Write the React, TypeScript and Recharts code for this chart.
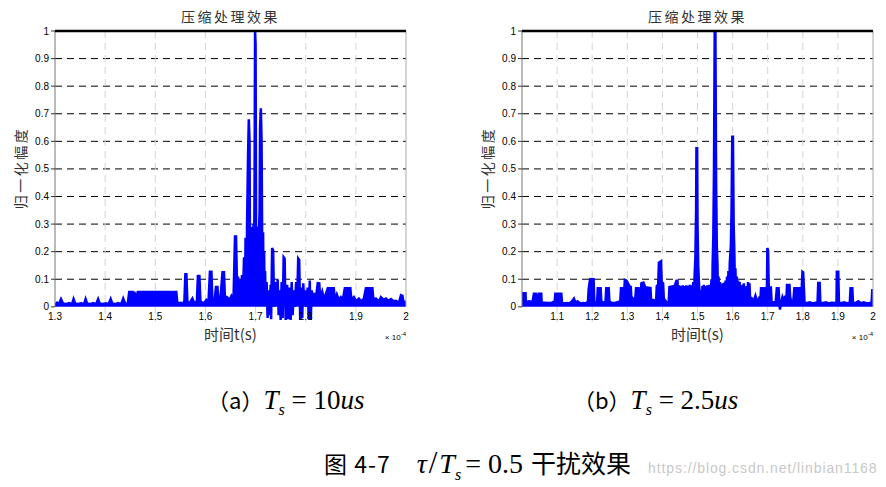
import React from 'react';
import { ComposedChart, Area, XAxis, YAxis, ReferenceLine, CartesianGrid } from 'recharts';

// amplitude samples, time in units of 1e-4 s
const pulseA: [number, number][] = [
  [1.300, 0.008], [1.304, 0.015], [1.308, 0.010], [1.312, 0.028], [1.316, 0.012], [1.322, 0.010],
  [1.328, 0.014], [1.334, 0.010], [1.337, 0.028], [1.340, 0.012], [1.346, 0.010], [1.352, 0.013],
  [1.358, 0.010], [1.361, 0.028], [1.364, 0.012], [1.370, 0.010], [1.376, 0.014], [1.382, 0.010],
  [1.386, 0.028], [1.389, 0.012], [1.396, 0.010], [1.402, 0.013], [1.407, 0.010], [1.411, 0.028],
  [1.414, 0.012], [1.420, 0.010], [1.426, 0.014], [1.432, 0.010], [1.436, 0.030], [1.440, 0.012],
  [1.445, 0.010], [1.448, 0.054], [1.455, 0.054], [1.456, 0.015], [1.458, 0.054], [1.462, 0.030],
  [1.465, 0.054], [1.470, 0.054], [1.471, 0.012], [1.474, 0.054], [1.483, 0.054], [1.484, 0.015],
  [1.487, 0.054], [1.494, 0.054], [1.495, 0.012], [1.498, 0.054], [1.506, 0.054], [1.507, 0.015],
  [1.510, 0.054], [1.514, 0.054], [1.515, 0.020], [1.518, 0.054], [1.524, 0.054], [1.525, 0.012],
  [1.528, 0.054], [1.532, 0.054], [1.534, 0.015], [1.537, 0.054], [1.542, 0.054], [1.544, 0.012],
  [1.550, 0.015], [1.555, 0.012], [1.558, 0.020], [1.560, 0.118], [1.562, 0.118], [1.564, 0.020],
  [1.568, 0.012], [1.574, 0.030], [1.578, 0.012], [1.583, 0.020], [1.585, 0.112], [1.588, 0.112],
  [1.590, 0.020], [1.596, 0.012], [1.602, 0.025], [1.606, 0.015], [1.609, 0.127], [1.612, 0.127],
  [1.614, 0.020], [1.618, 0.015], [1.621, 0.072], [1.624, 0.072], [1.626, 0.020], [1.630, 0.030],
  [1.634, 0.125], [1.637, 0.125], [1.639, 0.025], [1.643, 0.035], [1.648, 0.025], [1.652, 0.040],
  [1.656, 0.030], [1.659, 0.255], [1.661, 0.255], [1.663, 0.080], [1.665, 0.110], [1.667, 0.040],
  [1.669, 0.100], [1.671, 0.050], [1.673, 0.115], [1.675, 0.060], [1.677, 0.180], [1.679, 0.050],
  [1.680, 0.250], [1.682, 0.080], [1.683, 0.300], [1.685, 0.550], [1.6865, 0.680], [1.688, 0.600],
  [1.689, 0.120], [1.690, 0.290], [1.691, 0.050], [1.692, 0.280], [1.693, 0.070], [1.694, 0.290],
  [1.695, 0.090], [1.696, 0.300], [1.697, 0.150], [1.698, 0.450], [1.699, 1.000], [1.700, 0.950],
  [1.701, 0.300], [1.702, 0.080], [1.703, 0.280], [1.704, 0.060], [1.705, 0.290], [1.706, 0.080],
  [1.707, 0.280], [1.708, 0.350], [1.709, 0.650], [1.7105, 0.720], [1.712, 0.600], [1.713, 0.280],
  [1.714, 0.060], [1.715, 0.270], [1.716, 0.050], [1.717, 0.200], [1.718, 0.030], [1.719, 0.130],
  [1.720, 0.020], [1.722, 0.090], [1.724, -0.040], [1.726, 0.060], [1.728, -0.030], [1.730, 0.080],
  [1.731, -0.045], [1.733, 0.213], [1.735, 0.205], [1.737, 0.000], [1.739, 0.090], [1.741, 0.010],
  [1.744, 0.100], [1.746, -0.030], [1.748, 0.060], [1.750, -0.048], [1.752, 0.090], [1.754, -0.040],
  [1.756, 0.180], [1.758, 0.175], [1.760, -0.048], [1.763, 0.080], [1.765, -0.045], [1.768, 0.070],
  [1.770, -0.048], [1.772, 0.090], [1.774, -0.030], [1.776, 0.060], [1.778, 0.000], [1.781, 0.090],
  [1.783, 0.020], [1.785, 0.175], [1.787, 0.170], [1.789, -0.048], [1.791, 0.070], [1.793, -0.040],
  [1.795, 0.085], [1.797, 0.020], [1.799, 0.060], [1.801, 0.000], [1.804, 0.070], [1.806, -0.045],
  [1.808, 0.095], [1.810, -0.048], [1.812, 0.060], [1.814, 0.020], [1.817, 0.050], [1.820, 0.025],
  [1.824, 0.086], [1.827, 0.085], [1.829, 0.030], [1.833, 0.055], [1.837, 0.025], [1.840, 0.045],
  [1.844, 0.067], [1.856, 0.067], [1.858, 0.025], [1.862, 0.045], [1.866, 0.025], [1.870, 0.035],
  [1.874, 0.025], [1.878, 0.067], [1.889, 0.067], [1.891, 0.025], [1.896, 0.035], [1.901, 0.020],
  [1.906, 0.030], [1.911, 0.020], [1.916, 0.030], [1.920, 0.067], [1.933, 0.067], [1.935, 0.025],
  [1.940, 0.030], [1.946, 0.020], [1.950, 0.035], [1.955, 0.025], [1.960, 0.030], [1.965, 0.022],
  [1.970, 0.028], [1.975, 0.020], [1.980, 0.022], [1.986, 0.015], [1.990, 0.042], [1.993, 0.040],
  [1.995, 0.015], [2.000, 0.020],
];

const pulseB: [number, number][] = [
  [1.000, 0.018], [1.001, 0.049], [1.010, 0.049], [1.011, 0.018], [1.020, 0.020], [1.030, 0.018],
  [1.034, 0.047], [1.040, 0.047], [1.041, 0.018], [1.048, 0.047], [1.055, 0.047], [1.056, 0.015],
  [1.065, 0.015], [1.075, 0.014], [1.085, 0.015], [1.093, 0.020], [1.095, 0.047], [1.112, 0.047],
  [1.114, 0.015], [1.120, 0.012], [1.128, 0.014], [1.135, 0.012], [1.142, 0.020], [1.148, 0.030],
  [1.152, 0.015], [1.158, 0.020], [1.163, 0.015], [1.168, 0.012], [1.175, 0.014], [1.182, 0.012],
  [1.188, 0.020], [1.190, 0.065], [1.194, 0.100], [1.204, 0.100], [1.206, 0.020], [1.210, 0.012],
  [1.214, 0.020], [1.216, 0.067], [1.224, 0.067], [1.226, 0.020], [1.232, 0.014], [1.238, 0.020],
  [1.240, 0.067], [1.247, 0.067], [1.249, 0.020], [1.256, 0.014], [1.265, 0.014], [1.274, 0.018],
  [1.280, 0.020], [1.282, 0.067], [1.288, 0.067], [1.290, 0.030], [1.293, 0.098], [1.298, 0.095],
  [1.302, 0.085], [1.306, 0.075], [1.310, 0.072], [1.312, 0.020], [1.316, 0.030], [1.322, 0.020],
  [1.325, 0.067], [1.332, 0.067], [1.334, 0.020], [1.338, 0.020], [1.340, 0.085], [1.346, 0.088],
  [1.350, 0.075], [1.352, 0.020], [1.355, 0.070], [1.366, 0.068], [1.368, 0.020], [1.374, 0.025],
  [1.382, 0.020], [1.384, 0.075], [1.388, 0.080], [1.390, 0.160], [1.396, 0.165], [1.398, 0.090],
  [1.402, 0.085], [1.404, 0.030], [1.410, 0.020], [1.414, 0.010], [1.418, 0.020], [1.420, 0.072],
  [1.432, 0.075], [1.434, 0.015], [1.436, 0.080], [1.440, 0.095], [1.443, 0.095], [1.446, 0.010],
  [1.448, 0.078], [1.451, 0.020], [1.453, 0.075], [1.456, 0.010], [1.458, 0.078], [1.461, 0.030],
  [1.463, 0.075], [1.466, 0.015], [1.468, 0.078], [1.471, 0.025], [1.473, 0.076], [1.476, 0.010],
  [1.478, 0.080], [1.481, 0.030], [1.483, 0.078], [1.486, 0.040], [1.488, 0.090], [1.490, 0.020],
  [1.492, 0.120], [1.494, 0.180], [1.496, 0.350], [1.497, 0.575], [1.499, 0.575], [1.500, 0.300],
  [1.502, 0.150], [1.504, 0.090], [1.506, 0.050], [1.508, 0.020], [1.510, 0.060], [1.512, 0.010],
  [1.514, 0.075], [1.516, 0.020], [1.518, 0.080], [1.520, 0.010], [1.522, 0.075], [1.525, 0.030],
  [1.528, 0.078], [1.531, 0.020], [1.534, 0.080], [1.537, 0.040], [1.540, 0.100], [1.542, 0.020],
  [1.543, 0.150], [1.545, 0.250], [1.547, 0.500], [1.549, 1.000], [1.551, 1.000], [1.553, 0.450],
  [1.555, 0.220], [1.557, 0.150], [1.558, 0.010], [1.560, 0.110], [1.562, 0.010], [1.564, 0.090],
  [1.566, 0.020], [1.568, 0.080], [1.570, 0.010], [1.572, 0.085], [1.574, 0.020], [1.576, 0.088],
  [1.578, 0.010], [1.580, 0.095], [1.582, 0.020], [1.584, 0.110], [1.586, 0.010], [1.588, 0.130],
  [1.590, 0.020], [1.592, 0.160], [1.595, 0.220], [1.597, 0.350], [1.599, 0.617], [1.601, 0.617],
  [1.603, 0.300], [1.605, 0.200], [1.607, 0.020], [1.608, 0.140], [1.610, 0.010], [1.612, 0.110],
  [1.614, 0.020], [1.616, 0.095], [1.618, 0.010], [1.620, 0.090], [1.622, 0.020], [1.624, 0.075],
  [1.626, 0.010], [1.628, 0.080], [1.630, 0.030], [1.632, 0.085], [1.634, 0.020], [1.636, 0.070],
  [1.638, 0.010], [1.640, 0.075], [1.642, 0.020], [1.644, 0.090], [1.646, 0.015], [1.648, 0.085],
  [1.650, 0.020], [1.655, 0.030], [1.660, 0.020], [1.665, 0.040], [1.670, 0.018], [1.675, 0.030],
  [1.679, 0.020], [1.681, 0.067], [1.690, 0.067], [1.693, 0.065], [1.695, 0.030], [1.698, 0.080],
  [1.699, 0.213], [1.701, 0.205], [1.703, 0.070], [1.709, 0.070], [1.711, 0.020], [1.718, 0.015],
  [1.723, 0.020], [1.726, 0.067], [1.731, 0.067], [1.733, 0.015], [1.735, -0.010], [1.738, 0.015],
  [1.742, 0.035], [1.746, 0.020], [1.750, 0.040], [1.753, 0.020], [1.755, 0.079], [1.762, 0.079],
  [1.764, 0.035], [1.768, 0.015], [1.773, 0.020], [1.776, 0.067], [1.783, 0.067], [1.784, 0.020],
  [1.786, 0.067], [1.792, 0.067], [1.794, 0.020], [1.797, 0.070], [1.799, 0.127], [1.801, 0.125],
  [1.803, 0.070], [1.805, 0.015], [1.812, 0.014], [1.820, 0.016], [1.828, 0.012], [1.836, 0.015],
  [1.842, 0.016], [1.844, 0.086], [1.848, 0.086], [1.850, 0.015], [1.858, 0.014], [1.866, 0.016],
  [1.874, 0.012], [1.882, 0.015], [1.890, 0.014], [1.896, 0.016], [1.897, 0.127], [1.901, 0.127],
  [1.903, 0.015], [1.910, 0.014], [1.918, 0.016], [1.926, 0.012], [1.934, 0.016], [1.936, 0.067],
  [1.941, 0.067], [1.943, 0.015], [1.950, 0.014], [1.958, 0.020], [1.966, 0.013], [1.974, 0.016],
  [1.982, 0.012], [1.990, 0.014], [1.996, 0.016], [1.998, 0.060], [2.000, 0.060],
];

const xTicksA = [1.3, 1.4, 1.5, 1.6, 1.7, 1.8, 1.9, 2];
const xTicksB = [1.1, 1.2, 1.3, 1.4, 1.5, 1.6, 1.7, 1.8, 1.9, 2];
const yTicks = [0, 0.1, 0.2, 0.3, 0.4, 0.5, 0.6, 0.7, 0.8, 0.9, 1];
const yGrid = [0.1, 0.2, 0.3, 0.4, 0.5, 0.6, 0.7, 0.8, 0.9];

const panelTitle = '压缩处理效果';
const yTitle = '归一化幅度';
const xTitle = '时间t(s)';

const latin = '"Liberation Sans", Arial, sans-serif';
const cjk = '"Noto Sans CJK SC", sans-serif';
const serif = '"Liberation Serif", "Times New Roman", serif';

const CHART_H = 340;
const BLUE = '#0000ff';

interface PanelProps {
  data: [number, number][];
  xDomain: [number, number];
  xTicks: number[];
  left: number;
  width: number;
  yAxisWidth: number;
  rightMargin: number;
}

function PulsePanel({ data, xDomain, xTicks, left, width, yAxisWidth, rightMargin }: PanelProps) {
  const rows = data.map(([t, v]) => ({ t, v }));
  const plotLeft = left + yAxisWidth;
  const plotRight = left + width - rightMargin;
  const mid = (plotLeft + plotRight) / 2;
  const vGrid = xTicks.filter((t) => t > xDomain[0] && t < xDomain[1]);

  return (
    <>
      <div style={{ position: 'absolute', left, top: 0 }}>
        <ComposedChart width={width} height={CHART_H} data={rows} margin={{ top: 31, right: rightMargin, bottom: 0, left: 0 }}>
          <CartesianGrid vertical={false} horizontalValues={yGrid} stroke="#000" strokeDasharray="7 5" />
          <CartesianGrid horizontal={false} verticalValues={vGrid} stroke="#d4d4d4" strokeDasharray="7 5" />
          <XAxis
            type="number"
            dataKey="t"
            domain={xDomain}
            ticks={xTicks}
            interval={0}
            allowDataOverflow
            axisLine={false}
            tickLine={false}
            tickSize={0}
            tickMargin={0}
            height={18}
            tick={(p: any) => (
              <text x={p.x} y={p.y} dy={-2} textAnchor="middle" fontSize={10} fill="#000" fontFamily={latin}>
                {String(p.payload.value)}
              </text>
            )}
          />
          <YAxis
            type="number"
            domain={[-0.055, 1]}
            ticks={yTicks}
            interval={0}
            allowDataOverflow
            width={yAxisWidth}
            axisLine={false}
            tickLine={{ stroke: '#333' }}
            tickSize={4}
            tick={{ fontSize: 10, fill: '#000', fontFamily: latin }}
          />
          <ReferenceLine segment={[{ x: xDomain[0], y: 0 }, { x: xDomain[0], y: 1 }]} stroke="#777" strokeWidth={1} />
          <ReferenceLine segment={[{ x: xDomain[1], y: 0 }, { x: xDomain[1], y: 1 }]} stroke="#aaa" strokeWidth={1} />
          <Area
            type="linear"
            dataKey="v"
            stroke={BLUE}
            strokeWidth={2.5}
            fill={BLUE}
            fillOpacity={1}
            dot={false}
            activeDot={false}
            isAnimationActive={false}
          />
          <ReferenceLine y={1} stroke="#000" strokeWidth={2.5} />
        </ComposedChart>
      </div>
      <div style={{ position: 'absolute', left: mid - 100, width: 200, top: 6, textAlign: 'center', fontFamily: cjk, fontSize: 14, letterSpacing: 2.5, color: '#333', lineHeight: '20px' }}>
        {panelTitle}
      </div>
      <div style={{ position: 'absolute', left: mid - 80, width: 160, top: 324, textAlign: 'center', fontFamily: cjk, fontSize: 15, color: '#333', lineHeight: '20px' }}>
        {xTitle}
      </div>
      <div style={{ position: 'absolute', left: plotRight - 40, width: 40, top: 328, textAlign: 'right', fontFamily: latin, fontSize: 8, color: '#000', lineHeight: '12px' }}>
        × 10<sup style={{ fontSize: 6 }}>-4</sup>
      </div>
      <div style={{ position: 'absolute', left: plotLeft - 35 - 50, top: 158, width: 100, textAlign: 'center', transform: 'rotate(-90deg)', fontFamily: cjk, fontSize: 14, letterSpacing: 2.5, color: '#333', lineHeight: '20px' }}>
        {yTitle}
      </div>
    </>
  );
}

export default function App() {
  return (
    <div style={{ position: 'absolute', left: 0, top: 0, width: 886, height: 487, background: '#fff', overflow: 'hidden' }}>
      <PulsePanel data={pulseA} xDomain={[1.3, 2]} xTicks={xTicksA} left={0} width={420} yAxisWidth={55} rightMargin={14} />
      <PulsePanel data={pulseB} xDomain={[1.0, 2]} xTicks={xTicksB} left={440} width={446} yAxisWidth={82} rightMargin={13} />

      <div style={{ position: 'absolute', left: 207, top: 382, fontSize: 27, lineHeight: '34px', whiteSpace: 'nowrap', color: '#000' }}>
        <span style={{ fontFamily: cjk, fontSize: 22 }}>（a）</span>
        <span style={{ fontFamily: serif, fontStyle: 'italic' }}>T</span>
        <sub style={{ fontFamily: serif, fontStyle: 'italic', fontSize: 16 }}>s</sub>
        <span style={{ fontFamily: serif }}> = 10</span>
        <span style={{ fontFamily: serif, fontStyle: 'italic' }}>us</span>
      </div>
      <div style={{ position: 'absolute', left: 573, top: 382, fontSize: 27, lineHeight: '34px', whiteSpace: 'nowrap', color: '#000' }}>
        <span style={{ fontFamily: cjk, fontSize: 22 }}>（b）</span>
        <span style={{ fontFamily: serif, fontStyle: 'italic' }}>T</span>
        <sub style={{ fontFamily: serif, fontStyle: 'italic', fontSize: 16 }}>s</sub>
        <span style={{ fontFamily: serif }}> = 2.5</span>
        <span style={{ fontFamily: serif, fontStyle: 'italic' }}>us</span>
      </div>
      <div style={{ position: 'absolute', left: 324, top: 445, fontSize: 28, lineHeight: '34px', whiteSpace: 'nowrap', color: '#000' }}>
        <span style={{ fontFamily: cjk, fontSize: 23, letterSpacing: 1 }}>图 4-7</span>
        <span style={{ fontFamily: serif, fontStyle: 'italic', marginLeft: 26 }}>τ</span>
        <span style={{ fontFamily: serif, fontSize: 31, margin: '0 2px' }}>/</span>
        <span style={{ fontFamily: serif, fontStyle: 'italic' }}>T</span>
        <sub style={{ fontFamily: serif, fontStyle: 'italic', fontSize: 16 }}>s</sub>
        <span style={{ fontFamily: serif, marginLeft: 4 }}>= 0.5</span>
        <span style={{ fontFamily: cjk, fontSize: 25, marginLeft: 8 }}>干扰效果</span>
      </div>
      <div style={{ position: 'absolute', left: 648, top: 459, fontFamily: latin, fontSize: 14, letterSpacing: 0.9, color: '#c8c8c8', whiteSpace: 'nowrap', lineHeight: '18px' }}>
        https://blog.csdn.net/linbian1168
      </div>
    </div>
  );
}
